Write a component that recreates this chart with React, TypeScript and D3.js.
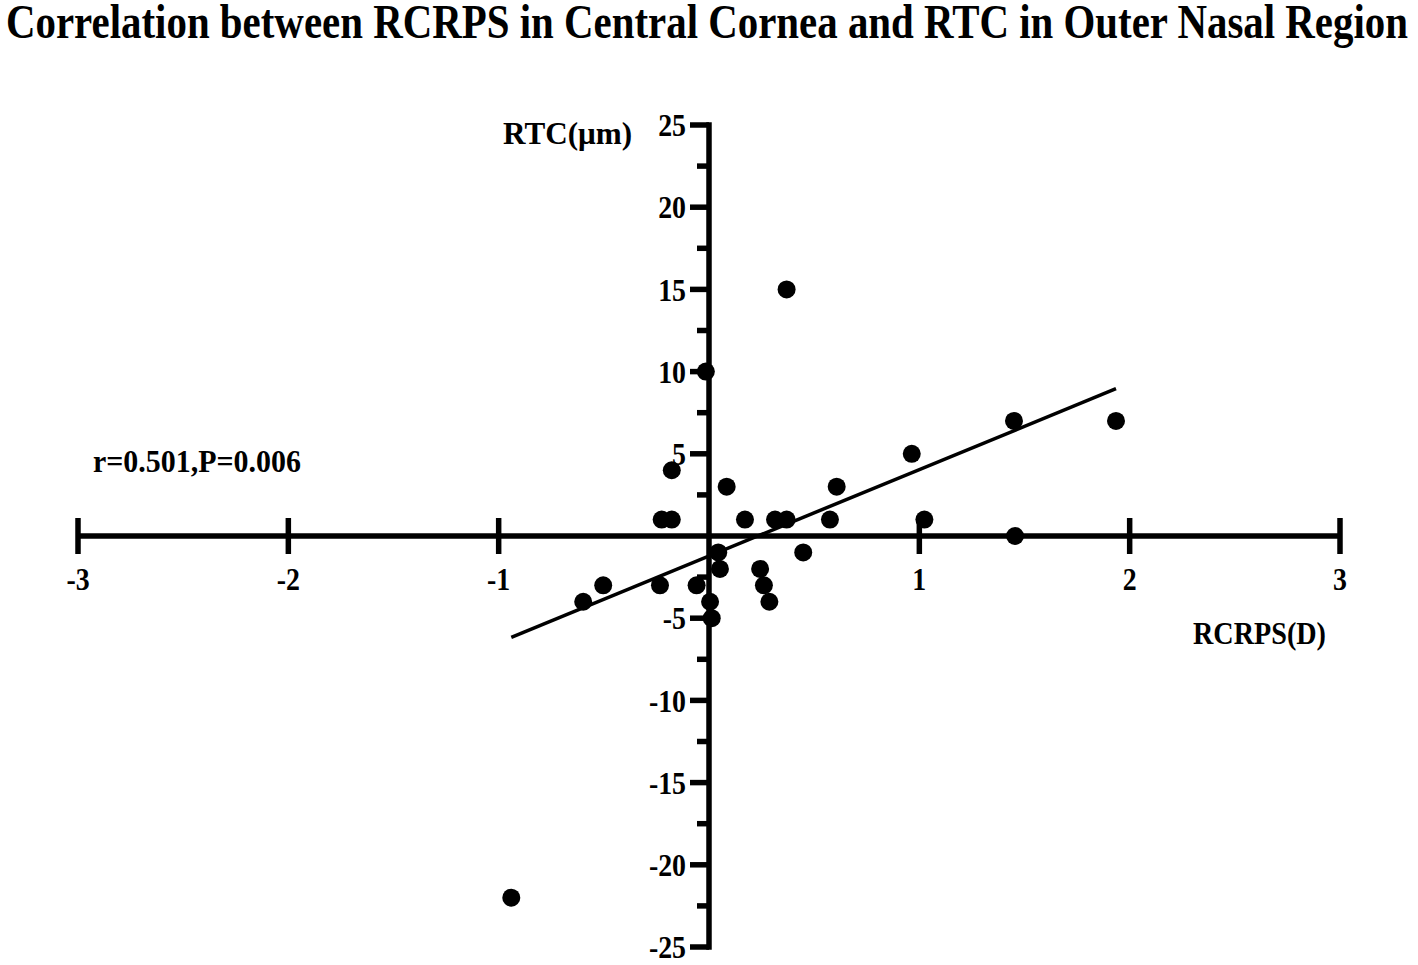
import React from "react";
import * as d3 from "d3";

const W = 1418;
const H = 965;

const titleText = "Correlation between RCRPS in Central Cornea and RTC in Outer Nasal Region";
const xLabel = "RCRPS(D)";
const yLabel = "RTC(μm)";
const statText = "r=0.501,P=0.006";

const xTickValues = [-3, -2, -1, 1, 2, 3];
const yMajorTicks = [-25, -20, -15, -10, -5, 5, 10, 15, 20, 25];
const yMinorTicks = [-22.5, -17.5, -12.5, -7.5, -2.5, 2.5, 7.5, 12.5, 17.5, 22.5];

const rcrps = [
  0.369, -0.015, -0.177, -0.225, -0.177, 0.084, 0.171, 0.314, 0.369, 0.575,
  0.607, 0.964, 1.024, 1.45, 1.455, 1.935, 0.044, 0.448, 0.052, 0.243,
  0.261, 0.287, -0.059, 0.005, 0.013, -0.233, -0.503, -0.598, -0.94,
];
const rtc = [
  15, 10, 4, 1, 1, 3, 1, 1, 1, 1,
  3, 5, 1, 7, 0, 7, -1, -1, -2, -2,
  -3, -4, -3, -4, -5, -3, -3, -4, -22,
];

const fitSlope = 5.26;
const fitIntercept = -1.22;

const FONT = "'Liberation Serif', 'Times New Roman', serif";

export default function App() {
  const x = d3.scaleLinear().domain([-3, 3]).range([78, 1340]);
  const y = d3.scaleLinear().domain([-25, 25]).range([947, 125]);
  const x0 = x(0);
  const y0 = y(0);

  const xMin = d3.min(rcrps) as number;
  const xMax = d3.max(rcrps) as number;
  const fitLine = d3
    .line<number>()
    .x((d) => x(d))
    .y((d) => y(fitSlope * d + fitIntercept));

  const axisW = 5.5;
  const fs = 32;
  const sx = 0.87;

  return (
    <svg
      width={W}
      height={H}
      viewBox={`0 0 ${W} ${H}`}
      style={{ position: "absolute", left: 0, top: 0, background: "#fff" }}
    >
      <rect x={0} y={0} width={W} height={H} fill="#fff" />
      <text
        x={6}
        y={38}
        fontFamily={FONT}
        fontWeight="bold"
        fontSize={49}
        textLength={1402}
        lengthAdjust="spacingAndGlyphs"
        fill="#000"
      >
        {titleText}
      </text>

      {/* x axis */}
      <line x1={x(-3)} x2={x(3)} y1={y0} y2={y0} stroke="#000" strokeWidth={axisW} />
      {xTickValues.map((v) => (
        <g key={"xt" + v}>
          <line x1={x(v)} x2={x(v)} y1={y0 - 18} y2={y0 + 18} stroke="#000" strokeWidth={axisW} />
          <text
            transform={`translate(${x(v)},590) scale(${sx},1)`}
            textAnchor="middle"
            fontFamily={FONT}
            fontWeight="bold"
            fontSize={fs}
            fill="#000"
          >
            {v}
          </text>
        </g>
      ))}

      {/* y axis */}
      <line x1={x0} x2={x0} y1={y(25) - axisW / 2} y2={y(-25) + axisW / 2} stroke="#000" strokeWidth={axisW} />
      {yMajorTicks.map((v) => (
        <g key={"yt" + v}>
          <line x1={x0 - 19} x2={x0} y1={y(v)} y2={y(v)} stroke="#000" strokeWidth={axisW} />
          <text
            transform={`translate(${x0 - 23},${y(v)}) scale(${sx},1)`}
            dy="0.35em"
            textAnchor="end"
            fontFamily={FONT}
            fontWeight="bold"
            fontSize={fs}
            fill="#000"
          >
            {v}
          </text>
        </g>
      ))}
      {yMinorTicks.map((v) => (
        <line key={"ym" + v} x1={x0 - 12} x2={x0} y1={y(v)} y2={y(v)} stroke="#000" strokeWidth={axisW} />
      ))}

      {/* regression line */}
      <path d={fitLine([xMin, xMax]) || ""} fill="none" stroke="#000" strokeWidth={3.5} />

      {/* points */}
      {rcrps.map((v, i) => (
        <circle key={"p" + i} cx={x(v)} cy={y(rtc[i])} r={9} fill="#000" />
      ))}

      {/* labels */}
      <text x={503} y={144} fontFamily={FONT} fontWeight="bold" fontSize={fs} textLength={129} lengthAdjust="spacingAndGlyphs" fill="#000">
        {yLabel}
      </text>
      <text x={1193} y={644} fontFamily={FONT} fontWeight="bold" fontSize={fs} textLength={133} lengthAdjust="spacingAndGlyphs" fill="#000">
        {xLabel}
      </text>
      <text x={93} y={472} fontFamily={FONT} fontWeight="bold" fontSize={fs} textLength={208} lengthAdjust="spacingAndGlyphs" fill="#000">
        {statText}
      </text>
    </svg>
  );
}
